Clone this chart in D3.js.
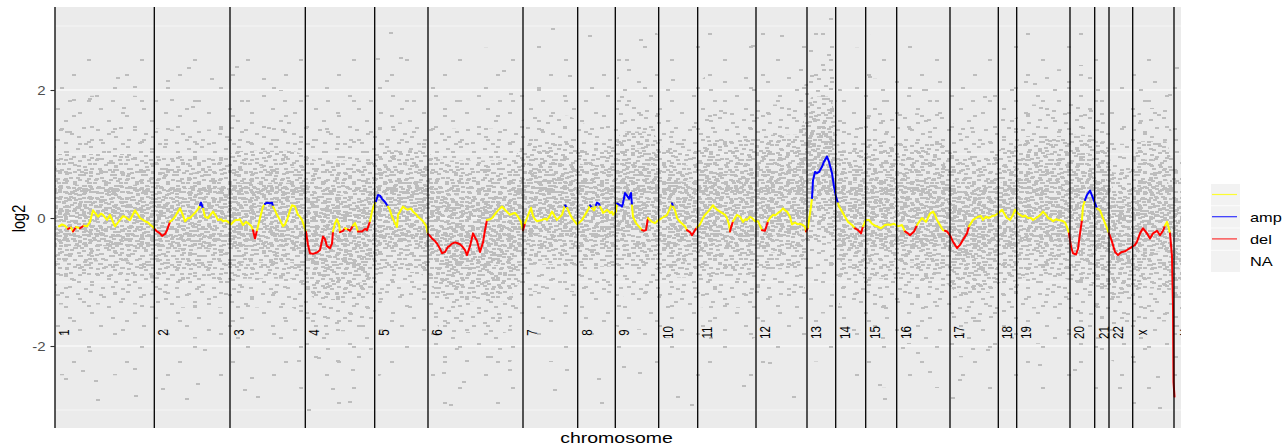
<!DOCTYPE html>
<html>
<head>
<meta charset="utf-8">
<title>Copy number profile</title>
<script src="https://cdn.jsdelivr.net/npm/d3@7/dist/d3.min.js"></script>
<style>
  html, body { margin: 0; padding: 0; background: #ffffff; }
  svg { display: block; font-family: "Liberation Sans", Arial, Helvetica, sans-serif; }
</style>
</head>
<body>
<svg id="cnv" width="1283" height="447"></svg>
<script>
// ---------------- data ----------------
const chromNames = ["1","2","3","4","5","6","7","8","9","10","11","12","13","14","15","16","17","18","19","20","21","22","x","y"];
// number of bins per chromosome (x axis is bin index)
const chromSizes = [993,757,753,694,533,950,547,376,434,390,583,510,287,300,310,533,483,184,533,247,143,237,413,70];

// spread of the per-bin log2 ratios: centre and core half-width per chromosome
const cloudCentre = [0.04,-0.01,0.05,-0.19,0.10,-0.20,0.22,0.15,0.30,0.07,0.15,0.25,0.75,0.06,0.11,0.10,-0.11,0.04,0.18,0.15,0.05,-0.29,0.05,-0.30];
const cloudSpread = [0.96,0.96,1.00,1.09,0.96,1.10,0.95,0.91,1.05,1.00,1.07,1.05,1.15,1.00,1.06,1.06,1.06,1.04,1.10,1.15,1.15,1.00,1.15,1.00];

// isolated extreme bins
const outlierPos  = [630,800,190,420,350,690,120,110,410,430,280,810,350,800,1340,1130,1570,1380,1170,1080,1320,1430,1500,
  1820,2090,1900,2030,1970,2440,3360,3230,3460,3320,4490,4560,4980,5150,5670,2640,2980,2780,2950,3890,3960,4090,4360,4550,
  5000,5120,5440,5470,2540,5860,5720,6180,6980,7270,7740,7760,8150,5690,5850,6230,6370,6890,7150,7390,8300,8250,8480,
  8690,9800,9300,11220,11150,8750,9050,8980,9330,9850,10200,10650,11050,11030,8630,5350];
const outlierLog2 = [2.19,2.05,1.84,1.91,1.86,1.72,1.34,-2.52,-2.55,-2.84,-2.39,-2.78,-2.08,-2.36,2.34,2.14,2.17,1.73,1.84,-2.67,-2.83,-2.59,-2.06,
  2.36,2.17,-2.69,-2.80,-2.50,-2.23,2.89,2.48,2.50,2.14,2.30,1.94,2.95,2.22,1.89,-2.19,-2.38,-2.67,-2.88,-2.42,-2.92,-2.56,-2.17,-2.38,
  -2.69,-2.38,-2.52,-2.89,-3.00,2.78,2.47,2.16,2.69,2.84,2.55,2.31,2.20,-2.33,-2.42,-2.80,-2.92,-2.62,-2.27,-2.80,-2.83,-2.61,-2.03,
  2.00,2.10,1.89,2.34,1.92,-2.40,-2.53,-2.81,-2.06,-2.30,-2.38,-2.66,-2.97,-2.48,-2.11,2.84];

// smoothed segment profile (bin index, log2 ratio)
const segPos = [
  40,70,100,130,160,180,210,250,290,320,350,380,410,430,460,480,520,550,580,600,630,650,680,700,730,750,780,800,830,850,880,900,930,950,980,
  1000,1020,1050,1070,1100,1120,1150,1180,1200,1230,1250,1280,1300,1330,1350,1380,1400,1430,1450,1460,1480,1500,1530,1560,1580,1610,1630,1660,1680,1710,1730,
  1760,1790,1810,1830,1850,1880,1910,1930,1960,1980,2000,2020,2050,2080,2100,2120,2150,2170,2180,2200,2220,2250,2280,2300,2320,2350,2370,2400,2430,2450,2470,2490,
  2510,2520,2530,2550,2580,2620,2650,2680,2700,2720,2750,2770,2780,2800,2820,2840,2850,2880,2900,2930,2950,2980,3000,3030,3070,3100,3120,3150,3170,3190,
  3210,3230,3250,3270,3300,3330,3350,3370,3400,3420,3430,3450,3480,3510,3530,3560,3580,3610,3630,3660,3680,3710,
  3730,3750,3770,3800,3820,3850,3870,3900,3930,3950,3970,4000,4020,4050,4070,4100,4120,4150,4180,4200,4220,4250,4280,4300,4320,4350,4370,4400,4420,4450,4470,4500,4530,4550,4580,4600,4630,4660,
  4680,4700,4720,4740,4760,4780,4800,4820,4850,4870,4900,4920,4950,4970,5000,5020,5050,5070,5090,5100,5120,5150,5170,5200,5220,
  5250,5270,5300,5320,5340,5350,5370,5390,5410,5420,5440,5450,5470,5480,5500,5520,5540,5550,5570,5580,
  5610,5620,5650,5670,5680,5700,5720,5740,5760,5770,5780,5800,5820,5850,5870,5890,5910,5930,5950,5970,6000,6020,
  6050,6070,6100,6120,6150,6170,6180,6200,6220,6250,6280,6300,6320,6350,6370,6400,6420,
  6450,6480,6500,6530,6560,6580,6600,6620,6650,6670,6700,6720,6740,6750,6760,6780,6800,6820,6850,6880,6900,6920,6950,6970,7000,
  7030,7050,7070,7100,7130,7150,7180,7200,7230,7250,7280,7300,7320,7350,7370,7400,7430,7450,7480,7500,7510,
  7530,7540,7560,7570,7580,7600,7620,7640,7670,7690,7720,7740,7770,7790,7810,7830,
  7840,7870,7900,7930,7970,8000,8030,8060,8080,
  8110,8140,8170,8200,8220,8260,8300,8330,8350,8390,
  8430,8470,8500,8530,8550,8590,8620,8650,8670,8710,8750,8780,8800,8820,8850,8880,8900,8920,
  8950,8980,9020,9050,9080,9120,9140,9160,9180,9210,9230,9260,9280,9310,9340,9370,9400,
  9430,9470,9500,9520,9550,9580,9600,
  9630,9650,9680,9700,9730,9760,9780,9810,9830,9860,9880,9910,9930,9960,9980,10010,10030,10060,10080,10100,10120,
  10140,10160,10180,10210,10230,10250,10270,10280,10300,10320,10350,10380,10400,
  10420,10450,10480,10500,10520,
  10540,10570,10600,10630,10650,10670,10700,10720,10750,10770,
  10800,10820,10850,10880,10900,10920,10950,10980,11000,11020,11050,11080,11100,11120,11130,11150,11170,11180,11185,
  11195
];
const segLog2 = [
  -0.13,-0.10,-0.12,-0.17,-0.15,-0.21,-0.14,-0.16,-0.12,-0.13,-0.06,0.12,0.06,0.02,0.07,0.05,-0.03,0.05,-0.06,-0.13,-0.07,-0.03,0.03,0.02,-0.02,-0.03,0.06,0.12,0.05,0.00,-0.03,-0.05,-0.07,-0.10,-0.14,
  -0.18,-0.21,-0.24,-0.28,-0.25,-0.19,-0.06,-0.02,0.02,0.10,0.15,0.04,-0.05,0.00,0.00,0.05,0.08,0.14,0.20,0.24,0.15,0.02,0.00,0.06,0.10,0.03,-0.03,-0.02,-0.05,-0.04,-0.06,
  -0.10,-0.05,-0.03,-0.03,-0.02,-0.11,-0.06,-0.08,-0.12,-0.19,-0.32,-0.19,0.00,0.18,0.22,0.24,0.23,0.24,0.18,0.12,0.05,-0.03,-0.13,-0.10,-0.03,0.12,0.20,0.18,0.05,0.02,-0.03,-0.12,
  -0.22,-0.32,-0.42,-0.55,-0.56,-0.54,-0.50,-0.29,-0.33,-0.44,-0.47,-0.40,-0.21,-0.08,-0.02,-0.10,-0.22,-0.20,-0.16,-0.18,-0.20,-0.12,-0.08,-0.21,-0.21,-0.17,-0.19,-0.05,0.10,0.20,
  0.26,0.36,0.35,0.30,0.25,0.18,0.12,0.02,-0.08,-0.14,0.05,0.10,0.18,0.14,0.13,0.15,0.10,0.06,0.02,-0.02,-0.05,-0.12,
  -0.25,-0.28,-0.32,-0.36,-0.40,-0.48,-0.55,-0.53,-0.45,-0.43,-0.40,-0.38,-0.39,-0.41,-0.44,-0.50,-0.58,-0.44,-0.24,-0.30,-0.36,-0.53,-0.38,-0.19,-0.03,-0.02,0.00,0.06,0.10,0.15,0.18,0.13,0.08,0.05,0.07,0.08,0.02,-0.06,
  -0.19,-0.08,0.00,0.08,0.16,0.03,-0.02,-0.05,-0.04,-0.03,-0.01,-0.03,0.04,0.10,0.02,-0.03,0.02,0.05,0.15,0.20,0.16,0.06,0.00,-0.06,-0.10,
  -0.06,-0.03,0.05,0.10,0.16,0.20,0.16,0.12,0.20,0.24,0.22,0.18,0.12,0.08,0.10,0.13,0.10,0.08,0.10,0.05,
  0.10,0.23,0.20,0.18,0.23,0.39,0.35,0.30,0.39,0.20,0.02,-0.05,-0.10,-0.15,-0.19,-0.20,-0.19,0.00,-0.03,-0.06,-0.08,-0.05,
  -0.02,0.00,0.03,0.05,0.15,0.23,0.18,0.12,0.00,-0.06,-0.10,-0.13,-0.19,-0.22,-0.27,-0.19,-0.15,
  -0.10,0.00,0.05,0.10,0.16,0.20,0.16,0.13,0.10,0.08,0.05,0.00,-0.10,-0.21,-0.15,-0.05,0.00,0.05,0.02,-0.06,-0.02,-0.03,0.02,0.00,-0.05,
  -0.05,-0.12,-0.19,-0.20,-0.05,0.00,0.05,0.04,0.08,0.10,0.15,0.12,0.10,0.02,-0.10,-0.07,-0.10,-0.09,-0.11,-0.14,-0.21,
  -0.15,-0.03,0.18,0.31,0.59,0.72,0.70,0.72,0.80,0.88,0.96,0.88,0.70,0.49,0.33,0.23,
  0.18,0.10,0.02,-0.06,-0.11,-0.16,-0.19,-0.24,-0.13,
  -0.03,-0.03,-0.09,-0.12,-0.13,-0.16,-0.11,-0.10,-0.11,-0.09,
  -0.13,-0.11,-0.21,-0.24,-0.27,-0.21,-0.11,-0.04,0.00,-0.06,0.07,0.10,0.05,-0.03,-0.11,-0.19,-0.20,-0.21,
  -0.27,-0.37,-0.47,-0.42,-0.34,-0.24,-0.13,-0.08,-0.03,0.00,0.02,0.03,-0.03,0.02,0.00,0.03,0.04,
  0.07,0.13,0.05,0.00,-0.03,0.05,0.13,
  0.07,0.05,0.02,0.04,0.00,0.00,-0.03,0.00,0.02,0.06,0.10,0.05,0.00,-0.02,-0.05,-0.02,-0.03,-0.04,-0.05,-0.07,-0.14,
  -0.24,-0.45,-0.55,-0.57,-0.48,-0.24,-0.03,0.18,0.28,0.36,0.43,0.31,0.23,
  0.15,0.12,0.00,-0.08,-0.16,
  -0.24,-0.37,-0.53,-0.58,-0.55,-0.53,-0.52,-0.50,-0.47,-0.45,
  -0.42,-0.37,-0.24,-0.16,-0.20,-0.24,-0.32,-0.24,-0.22,-0.20,-0.27,-0.20,-0.12,-0.06,-0.11,-0.24,-0.60,-1.39,-2.56,
  -2.79
];

// called segments (bin ranges, inclusive)
const ampCalls = [[1450,1460],[2100,2170],[3210,3300],[5100,5100],[5350,5350],[5410,5440],[5620,5760],[6170,6170],[7570,7810],[10300,10400]];
const delCalls = [[130,130],[180,180],[250,250],[1000,1120],[1980,2000],[2510,2770],[2850,2880],[2930,2950],[3030,3120],
  [3730,4300],[4680,4680],[5870,5910],[6320,6400],[6750,6760],[7070,7100],[7510,7510],[8000,8060],[8500,8590],[8900,8920],
  [8950,9120],[10140,10250],[10540,11080],[11150,11195]];

const yTicks = [-2, 0, 2];
const yMinorTicks = [-3, -1, 1, 3];
const legendLabels = ["", "amp", "del", "NA"];
const callColours = { normal: "#ffff00", amp: "#0000ff", del: "#ff0000" };
const legendColours = ["#ffff00", "#0000ff", "#ff0000", null];

if (segPos.length !== segLog2.length) throw new Error("segment arrays differ: " + segPos.length + " vs " + segLog2.length);
if (outlierPos.length !== outlierLog2.length) throw new Error("outlier arrays differ: " + outlierPos.length + " vs " + outlierLog2.length);

// ---------------- layout ----------------
const svg = d3.select("#cnv");
const panel = { left: 55, right: 1181, top: 7, bottom: 428 };
const ends = d3.cumsum(chromSizes);
const starts = chromSizes.map((s, i) => ends[i] - s);
const total = ends[ends.length - 1];

const x = d3.scaleLinear().domain([0, total]).range([panel.left, panel.right]);
const y = d3.scaleLinear().domain([-3.281, 3.297]).range([panel.bottom, panel.top]);

// dash textures used to render the dense cloud of bins
const textures = [
  { id: "texA", w: 29, h: 23, marks: [[1,1],[9,3],[17,0],[24,4],[5,7],[13,8],[20,10],[1,12],[9,14],[16,15],[24,13],[4,18],[12,20],[20,19],[25,21],[14,3],[25,8],[7,21],[17,5],[0,5]] },
  { id: "texF", w: 31, h: 27, marks: [[2,2],[12,4],[22,1],[27,9],[6,10],[17,12],[1,17],[11,19],[23,18],[27,24],[4,24],[16,25],[13,0]] },
  { id: "texB", w: 31, h: 19, marks: [[3,2],[11,0],[20,3],[27,1],[7,6],[16,8],[25,7],[0,11],[11,12],[21,14],[5,16],[15,17],[2,7],[26,11],[18,0],[22,17]] },
  { id: "texC", w: 37, h: 29, marks: [[2,3],[15,1],[28,6],[8,11],[22,13],[33,17],[3,20],[16,23],[27,26],[10,27]] },
  { id: "texD", w: 43, h: 31, marks: [[4,2],[25,7],[13,15],[35,19],[21,27]] },
  { id: "texE", w: 53, h: 41, marks: [[7,5],[34,18],[19,33]] }
];
const dotW = 3.5, dotH = 2, dotFill = "#bdbdbd";

const defs = svg.append("defs");
defs.append("clipPath").attr("id", "panelClip")
  .append("rect")
  .attr("x", panel.left).attr("y", panel.top)
  .attr("width", panel.right - panel.left).attr("height", panel.bottom - panel.top);

textures.forEach(t => {
  const p = defs.append("pattern").attr("id", t.id)
    .attr("patternUnits", "userSpaceOnUse")
    .attr("width", t.w).attr("height", t.h);
  p.selectAll("rect").data(t.marks).join("rect")
    .attr("x", d => d[0]).attr("y", d => d[1])
    .attr("width", dotW).attr("height", dotH)
    .attr("shape-rendering", "crispEdges")
    .attr("fill", dotFill);
});

// stretched text helper (glyphs drawn slightly wide)
function label(parent, str, px, py, opts) {
  const o = Object.assign({ size: 13, fill: "#000", anchor: "start", sx: 1.25, rotate: 0, baseline: "central" }, opts || {});
  return parent.append("text")
    .attr("transform", `translate(${px},${py}) scale(${o.sx},1)` + (o.rotate ? ` rotate(${o.rotate})` : ""))
    .attr("text-anchor", o.anchor)
    .attr("dominant-baseline", o.baseline)
    .attr("font-size", o.size)
    .attr("fill", o.fill)
    .text(str);
}

// ---------------- panel ----------------
svg.append("rect")
  .attr("x", panel.left).attr("y", panel.top)
  .attr("width", panel.right - panel.left).attr("height", panel.bottom - panel.top)
  .attr("fill", "#ebebeb");

const grid = svg.append("g");
grid.selectAll("line.minor").data(yMinorTicks).join("line")
  .attr("class", "minor")
  .attr("x1", panel.left).attr("x2", panel.right)
  .attr("y1", d => y(d)).attr("y2", d => y(d))
  .attr("stroke", "#ffffff").attr("stroke-width", 0.55);
grid.selectAll("line.major").data(yTicks).join("line")
  .attr("class", "major")
  .attr("x1", panel.left).attr("x2", panel.right)
  .attr("y1", d => y(d)).attr("y2", d => y(d))
  .attr("stroke", "#ffffff").attr("stroke-width", 1.1);

const plot = svg.append("g").attr("clip-path", "url(#panelClip)");

// cloud of per-bin ratios, layered from sparse halo to dense core
const cloudPts = [{ p: 0, c: cloudCentre[0], h: cloudSpread[0] }];
chromSizes.forEach((s, i) => {
  cloudPts.push({ p: starts[i] + 0.2 * s, c: cloudCentre[i], h: cloudSpread[i] });
  cloudPts.push({ p: starts[i] + 0.8 * s, c: cloudCentre[i], h: cloudSpread[i] });
});
cloudPts.push({ p: total, c: cloudCentre[cloudCentre.length - 1], h: cloudSpread[cloudSpread.length - 1] });

const bands = [
  { k: 2.6, tex: "texE" },
  { k: 1.95, tex: "texD" },
  { k: 1.45, tex: "texC" },
  { k: 1.0, tex: "texB" },
  { k: 0.75, tex: "texF" },
  { k: 0.5, tex: "texA" }
];
bands.forEach(b => {
  const area = d3.area()
    .x(d => x(d.p))
    .y0(d => y(d.c - b.k * d.h))
    .y1(d => y(d.c + b.k * d.h))
    .curve(d3.curveMonotoneX);
  plot.append("path").attr("d", area(cloudPts)).attr("fill", `url(#${b.tex})`);
});

// isolated bins
plot.append("g").selectAll("rect")
  .data(outlierPos.map((p, i) => ({ p, v: outlierLog2[i] })))
  .join("rect")
  .attr("x", d => x(d.p) - dotW / 2)
  .attr("y", d => y(d.v) - dotH / 2)
  .attr("width", dotW).attr("height", dotH)
  .attr("shape-rendering", "crispEdges")
  .attr("fill", dotFill);

// chromosome boundaries
svg.append("g").selectAll("line")
  .data(starts)
  .join("line")
  .attr("x1", d => x(d)).attr("x2", d => x(d))
  .attr("y1", panel.top).attr("y2", panel.bottom)
  .attr("stroke", "#000000").attr("stroke-width", 1.3);

// segment profile coloured by call
function callAt(p) {
  if (ampCalls.some(r => p >= r[0] && p <= r[1])) return "amp";
  if (delCalls.some(r => p >= r[0] && p <= r[1])) return "del";
  return "normal";
}
const segPts = segPos.map((p, i) => ({ p, v: segLog2[i], call: callAt(p) }));
const runs = [];
let cur = null;
for (let i = 0; i < segPts.length - 1; i++) {
  const c = segPts[i].call;
  if (!cur || cur.call !== c) { cur = { call: c, pts: [segPts[i]] }; runs.push(cur); }
  cur.pts.push(segPts[i + 1]);
}
const segLine = d3.line().x(d => x(d.p)).y(d => y(d.v));
plot.append("g").selectAll("path")
  .data(runs)
  .join("path")
  .attr("d", d => segLine(d.pts))
  .attr("fill", "none")
  .attr("stroke", d => callColours[d.call])
  .attr("stroke-width", 2)
  .attr("stroke-linejoin", "round")
  .attr("stroke-linecap", "round");

// chromosome names
const names = plot.append("g");
chromNames.forEach((n, i) => {
  label(names, n, x(starts[i]) + 9, 332.5, { size: 11.5, anchor: "middle", sx: 1.3, rotate: -90 });
});

// ---------------- axes ----------------
const fmtTick = d => d === 0 ? "0" : (d < 0 ? "-" + Math.abs(d) : String(d));
const yAxis = svg.append("g")
  .attr("transform", `translate(${panel.left},0)`)
  .call(d3.axisLeft(y).tickValues(yTicks).tickSize(4.5).tickFormat(fmtTick));
yAxis.select(".domain").remove();
yAxis.selectAll(".tick line").attr("stroke", "#333333").attr("stroke-width", 1.1);
yAxis.selectAll(".tick text").remove();
yAxis.selectAll(".tick").each(function (d) {
  label(d3.select(this), fmtTick(d), -9.5, 0.5, { size: 12.5, anchor: "end", fill: "#4d4d4d", sx: 1.2 });
});

label(svg, "log2", 18.5, 218.5, { size: 14.5, anchor: "middle", sx: 1.3, rotate: -90 });
label(svg, "chromosome", 616.5, 443, { size: 15, anchor: "middle", sx: 1.3, baseline: "auto" });

// ---------------- legend ----------------
const legend = svg.append("g");
legendLabels.forEach((lab, i) => {
  const top = 184 + i * 22.2;
  legend.append("rect")
    .attr("x", 1211).attr("y", top)
    .attr("width", 29).attr("height", 21.4)
    .attr("fill", "#f2f2f2");
  if (legendColours[i]) {
    legend.append("line")
      .attr("x1", 1212).attr("x2", 1237)
      .attr("y1", top + 10.5).attr("y2", top + 10.5)
      .attr("stroke", legendColours[i]).attr("stroke-width", 1.2)
      .attr("stroke-opacity", 0.8);
  }
  if (lab) label(legend, lab, 1250, top + 11.5, { size: 13, sx: 1.26 });
});
</script>
</body>
</html>
